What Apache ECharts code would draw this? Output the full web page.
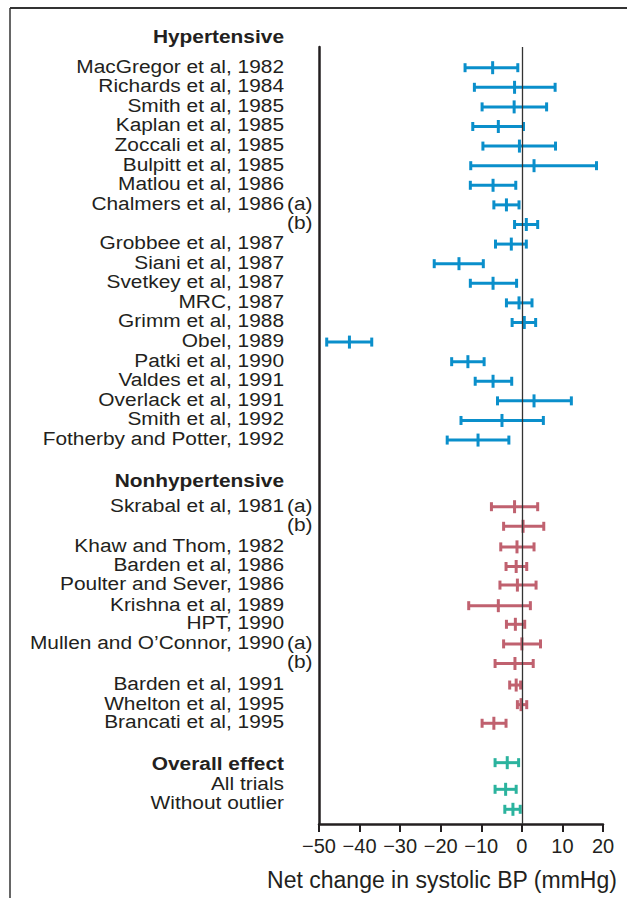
<!DOCTYPE html>
<html>
<head>
<meta charset="utf-8">
<script src="https://cdn.jsdelivr.net/npm/echarts@6/dist/echarts.min.js"></script>
<style>
html,body{margin:0;padding:0;background:#fff;}
#chart{width:627px;height:898px;}
</style>
</head>
<body>
<div id="chart"></div>
<script>
// ---------- Data ----------
const hypLabels = ["MacGregor et al, 1982","Richards et al, 1984","Smith et al, 1985","Kaplan et al, 1985","Zoccali et al, 1985","Bulpitt et al, 1985","Matlou et al, 1986","Chalmers et al, 1986","","Grobbee et al, 1987","Siani et al, 1987","Svetkey et al, 1987","MRC, 1987","Grimm et al, 1988","Obel, 1989","Patki et al, 1990","Valdes et al, 1991","Overlack et al, 1991","Smith et al, 1992","Fotherby and Potter, 1992"];
const hypSuffix = ["","","","","","","","(a)","(b)","","","","","","","","","","",""];
const hypRows  = [0,1,2,3,4,5,6,7,8,9,10,11,12,13,14,15,16,17,18,19];
const hypLow   = [-14.0,-11.7,-9.8,-12.1,-9.6,-12.6,-12.7,-6.9,-1.8,-6.5,-21.6,-12.7,-3.8,-2.4,-48.1,-17.3,-11.5,-6.0,-15.0,-18.4];
const hypMean  = [-7.2,-1.8,-1.9,-5.8,-0.6,3.0,-7.1,-3.8,1.1,-2.6,-15.5,-7.1,-0.7,0.6,-42.5,-13.3,-7.1,3.0,-4.9,-10.8];
const hypHigh  = [-1.0,8.2,6.1,0.4,8.3,18.4,-1.5,-0.7,3.9,1.1,-9.5,-1.3,2.5,3.4,-37.0,-9.3,-2.5,12.2,5.3,-3.2];

const nonLabels = ["Skrabal et al, 1981","","Khaw and Thom, 1982","Barden et al, 1986","Poulter and Sever, 1986","Krishna et al, 1989","HPT, 1990","Mullen and O\u2019Connor, 1990","","Barden et al, 1991","Whelton et al, 1995","Brancati et al, 1995"];
const nonSuffix = ["(a)","(b)","","","","","","(a)","(b)","","",""];
const nonRows  = [22.4,23.4,24.45,25.45,26.4,27.45,28.4,29.4,30.4,31.5,32.5,33.45];
const nonLow   = [-7.5,-4.5,-5.2,-3.9,-5.4,-13.1,-3.8,-4.5,-6.6,-3.0,-1.1,-9.8];
const nonMean  = [-1.8,0.3,-1.2,-1.4,-1.1,-5.8,-1.6,0.0,-1.7,-1.4,-0.2,-6.9];
const nonHigh  = [3.9,5.4,3.0,1.2,3.5,2.1,0.7,4.6,2.8,-0.3,1.2,-3.9];

const allRows  = [35.46,36.82,37.84];
const allLow   = [-6.6,-6.6,-4.2];
const allMean  = [-3.6,-4.0,-2.2];
const allHigh  = [-0.8,-1.4,-0.4];

const headers    = ["Hypertensive","Nonhypertensive","Overall effect"];
const headerRows = [-1.5,21.14,35.58];
const overallLabels = ["All trials","Without outlier"];
const overallRows   = [36.6,37.6];

const xTicks = [-50,-40,-30,-20,-10,0,10,20];
const xTitle = "Net change in systolic BP (mmHg)";

// ---------- Build ----------
const FONT = '"Liberation Sans", Arial, Helvetica, sans-serif';
const TXT = '#231f20';
const LABEL_SIZE = 18, LABEL_SX = 1.16;
function rowsToData(rows, lo, mid, hi){
  return rows.map((r,i)=>[lo[i], mid[i], hi[i], r]);
}
function renderBar(params, api){
  const y = api.value(3);
  const lo = api.coord([api.value(0), y]);
  const mid = api.coord([api.value(1), y]);
  const hi = api.coord([api.value(2), y]);
  const color = api.visual('color');
  const st = {stroke: color, lineWidth: 3};
  return {type:'group', children:[
    {type:'line', shape:{x1:lo[0], y1:lo[1], x2:hi[0], y2:hi[1]}, style:st},
    {type:'line', shape:{x1:lo[0], y1:lo[1]-4.5, x2:lo[0], y2:lo[1]+4.5}, style:st},
    {type:'line', shape:{x1:hi[0], y1:hi[1]-4.5, x2:hi[0], y2:hi[1]+4.5}, style:st},
    {type:'line', shape:{x1:mid[0], y1:mid[1]-6.5, x2:mid[0], y2:mid[1]+6.5}, style:st}
  ]};
}

// label items: [row, text, suffix, bold]
const labelItems = [];
hypRows.forEach((r,i)=>labelItems.push([r, hypLabels[i], hypSuffix[i], 0]));
nonRows.forEach((r,i)=>labelItems.push([r, nonLabels[i], nonSuffix[i], 0]));
headerRows.forEach((r,i)=>labelItems.push([r, headers[i], "", 1]));
overallRows.forEach((r,i)=>labelItems.push([r, overallLabels[i], "", 0]));

function renderLabel(params, api){
  const item = labelItems[params.dataIndex];
  const p = api.coord([xTicks[0], item[0] - 0.08]);
  const children = [];
  if (item[1]) children.push({type:'text', x:p[0]-35, y:p[1], scaleX:LABEL_SX, style:{
    text:item[1], fill:TXT, fontSize:LABEL_SIZE, lineHeight:16, fontFamily:FONT, fontWeight:item[3]?'bold':'normal',
    align:'right', verticalAlign:'middle'}});
  if (item[2]) children.push({type:'text', x:p[0]-32, y:p[1], scaleX:LABEL_SX, style:{
    text:item[2], fill:TXT, fontSize:LABEL_SIZE, lineHeight:16, fontFamily:FONT, align:'left', verticalAlign:'middle'}});
  return {type:'group', children};
}

const chart = echarts.init(document.getElementById('chart'), null, {renderer:'svg'});
chart.setOption({
  animation:false,
  backgroundColor:'#fff',
  grid:{left:319, right:24, top:47, bottom:74, containLabel:false},
  xAxis:{
    type:'value', position:'bottom', min:xTicks[0], max:xTicks[xTicks.length-1], interval:10,
    axisLine:{show:true, onZero:false, lineStyle:{color:TXT, width:2.5}},
    axisTick:{show:true, length:8, lineStyle:{color:TXT, width:2}},
    axisLabel:{color:TXT, fontSize:20, fontFamily:FONT, margin:12,
      formatter:v=> v<0 ? '\u2212'+(-v) : String(v)},
    splitLine:{show:false},
    name:xTitle, nameLocation:'middle', nameGap:44,
    nameTextStyle:{color:TXT, fontSize:23, fontFamily:FONT, padding:[0,38,0,0]}
  },
  yAxis:{
    type:'value', inverse:true, min:-1.056, max:38.59,
    axisLine:{show:true, onZero:false, lineStyle:{color:TXT, width:2.5}},
    axisTick:{show:false}, axisLabel:{show:false}, splitLine:{show:false}
  },
  graphic:[
    {type:'line', shape:{x1:10,y1:8,x2:627,y2:8}, style:{stroke:'#333', lineWidth:2}},
    {type:'line', shape:{x1:10,y1:8,x2:10,y2:898}, style:{stroke:'#333', lineWidth:1.5}}
  ],
  series:[
    {type:'custom', name:'Hypertensive', renderItem:renderBar, itemStyle:{color:'#0a8fcb'},
      encode:{x:[0,1,2], y:3}, data:rowsToData(hypRows,hypLow,hypMean,hypHigh),
      markLine:{silent:true, symbol:'none', label:{show:false},
        lineStyle:{color:'#333', width:1.3, type:'solid'}, data:[{xAxis:0}]}},
    {type:'custom', name:'Nonhypertensive', renderItem:renderBar, itemStyle:{color:'#c0616f'},
      encode:{x:[0,1,2], y:3}, data:rowsToData(nonRows,nonLow,nonMean,nonHigh)},
    {type:'custom', name:'Overall', renderItem:renderBar, itemStyle:{color:'#2bb39e'},
      encode:{x:[0,1,2], y:3}, data:rowsToData(allRows,allLow,allMean,allHigh)},
    {type:'custom', name:'labels', renderItem:renderLabel, clip:false, silent:true,
      encode:{y:0}, data:labelItems.map(d=>[d[0]])}
  ]
});
</script>
</body>
</html>
